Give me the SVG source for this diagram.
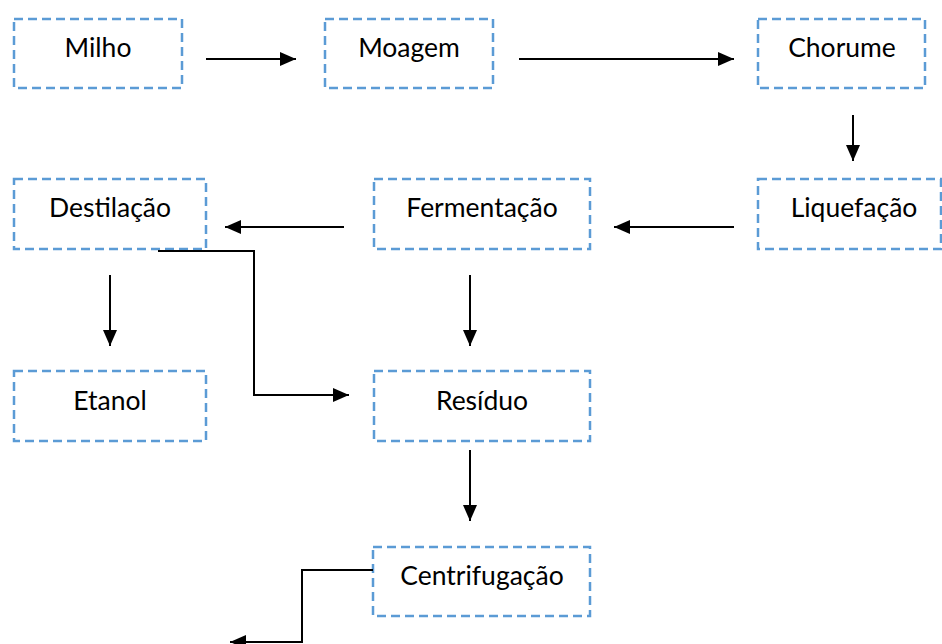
<svg xmlns="http://www.w3.org/2000/svg" width="942" height="644" viewBox="0 0 942 644">
<defs>
<marker id="ah" markerWidth="17" markerHeight="15" refX="16" refY="7" orient="auto" markerUnits="userSpaceOnUse">
<path d="M0,0 L16,7 L0,14 Z" fill="#000"/>
</marker>
<style>
.box{fill:none;stroke:#5B9BD5;stroke-width:2.5;stroke-dasharray:9,5}
.lbl{font-family:Lato,"Open Sans",sans-serif;font-size:26.5px;fill:#000;text-anchor:middle}
.con{fill:none;stroke:#000;stroke-width:2;marker-end:url(#ah)}
</style>
</defs>
<rect width="942" height="644" fill="#fff"/>
<g id="milho"><rect class="box" x="14" y="19" width="168" height="69"/><text class="lbl" x="98" y="57">Milho</text></g>
<g id="moagem"><rect class="box" x="325" y="19" width="168" height="69"/><text class="lbl" x="409" y="57">Moagem</text></g>
<g id="chorume"><rect class="box" x="758" y="19" width="167" height="69"/><text class="lbl" x="842" y="57">Chorume</text></g>
<g id="destilacao"><rect class="box" x="14" y="179" width="192" height="70"/><text class="lbl" x="110" y="217">Destilação</text></g>
<g id="fermentacao"><rect class="box" x="374" y="179" width="216" height="70"/><text class="lbl" x="482" y="217">Fermentação</text></g>
<g id="liquefacao"><rect class="box" x="758" y="179" width="183" height="70"/><text class="lbl" x="854" y="217">Liquefação</text></g>
<g id="etanol"><rect class="box" x="14" y="371" width="192" height="70"/><text class="lbl" x="110" y="410">Etanol</text></g>
<g id="residuo"><rect class="box" x="374" y="371" width="216" height="70"/><text class="lbl" x="482" y="410">Resíduo</text></g>
<g id="centrifugacao"><rect class="box" x="373" y="547" width="217" height="69"/><text class="lbl" x="482" y="585">Centrifugação</text></g>
<g id="connectors">
<path class="con" d="M206,59 H296"/>
<path class="con" d="M519,59 H734"/>
<path class="con" d="M853,115 V161"/>
<path class="con" d="M734,227 H614"/>
<path class="con" d="M344,227 H225"/>
<path class="con" d="M110,275 V346"/>
<path class="con" d="M470,275 V346"/>
<path class="con" d="M158,251 H254 V395 H349"/>
<path class="con" d="M470,450 V521"/>
<path class="con" d="M373,570 H302 V642 H230"/>
</g>
</svg>
